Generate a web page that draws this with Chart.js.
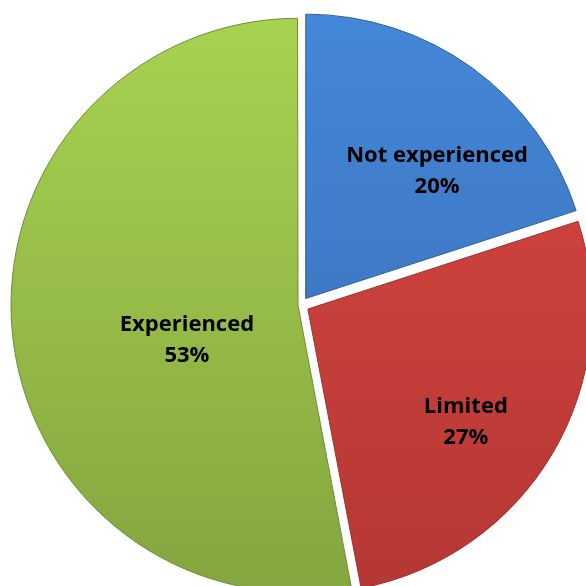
<!DOCTYPE html>
<html>
<head>
<meta charset="utf-8">
<script src="https://cdn.jsdelivr.net/npm/chart.js@4"></script>
<style>
  html, body { margin: 0; padding: 0; background: #fff; overflow: hidden; }
  #wrap { position: absolute; left: 0; top: 0; width: 602px; height: 610px; }
</style>
</head>
<body>
<div id="wrap"><canvas id="myChart"></canvas></div>
<script>
// data
const labels = ['Not experienced', 'Limited', 'Experienced'];
const values = [20, 27, 53];

// colour stops per slice (top, bottom)
const fills = [
  ['#4588d9', '#386bb2'],
  ['#db4742', '#b33733'],
  ['#a9d351', '#83a43f']
];
const edges = ['#2f5f9a', '#9a3330', '#6f8c36'];

function gradFill(ctx) {
  const chart = ctx.chart;
  const area = chart.chartArea;
  if (!area) return fills[ctx.dataIndex][0];
  const g = chart.ctx.createLinearGradient(0, area.top, 0, area.bottom);
  g.addColorStop(0, fills[ctx.dataIndex][0]);
  g.addColorStop(1, fills[ctx.dataIndex][1]);
  return g;
}

// draws "name\npercent" inside each slice
const sliceLabels = {
  id: 'sliceLabels',
  afterDatasetsDraw(chart, args, opts) {
    const c = chart.ctx;
    const meta = chart.getDatasetMeta(0);
    const total = values.reduce((a, b) => a + b, 0);
    c.save();
    c.font = opts.font;
    c.fillStyle = '#000';
    c.textAlign = 'center';
    c.textBaseline = 'middle';
    meta.data.forEach((arc, i) => {
      const p = arc.getProps(['x', 'y', 'startAngle', 'endAngle', 'outerRadius'], true);
      const off = (arc.options.offset || 0) / 4; // chart.js moves arcs by offset/4
      const mid = (p.startAngle + p.endAngle) / 2;
      const cx = p.x + Math.cos(mid) * off;
      const cy = p.y + Math.sin(mid) * off;
      const a = mid + (opts.angleShift[i] || 0) * Math.PI / 180;
      const r = p.outerRadius * opts.radiusFrac[i];
      const x = cx + Math.cos(a) * r;
      const y = cy + Math.sin(a) * r;
      const pct = Math.round(values[i] / total * 100) + '%';
      c.fillText(labels[i], x, y - opts.lineGap / 2);
      c.fillText(pct, x, y + opts.lineGap / 2);
    });
    c.restore();
  }
};

const config = {
  type: 'pie',
  data: {
    labels: labels,
    datasets: [{
      data: values,
      backgroundColor: gradFill,
      borderColor: edges,
      borderWidth: 1,
      offset: [32, 32, 12],
      hoverOffset: 0
    }]
  },
  options: {
    responsive: true,
    maintainAspectRatio: false,
    animation: false,
    radius: 284,
    layout: { padding: 0 },
    plugins: {
      legend: { display: false },
      tooltip: { enabled: false },
      sliceLabels: {
        font: 'bold 22px "Open Sans", Lato, sans-serif',
        lineGap: 31,
        radiusFrac: [0.643, 0.684, 0.41],
        angleShift: [10, 5, -12]
      }
    }
  },
  plugins: [sliceLabels]
};

const myChart = new Chart(document.getElementById('myChart'), config);
</script>
</body>
</html>
